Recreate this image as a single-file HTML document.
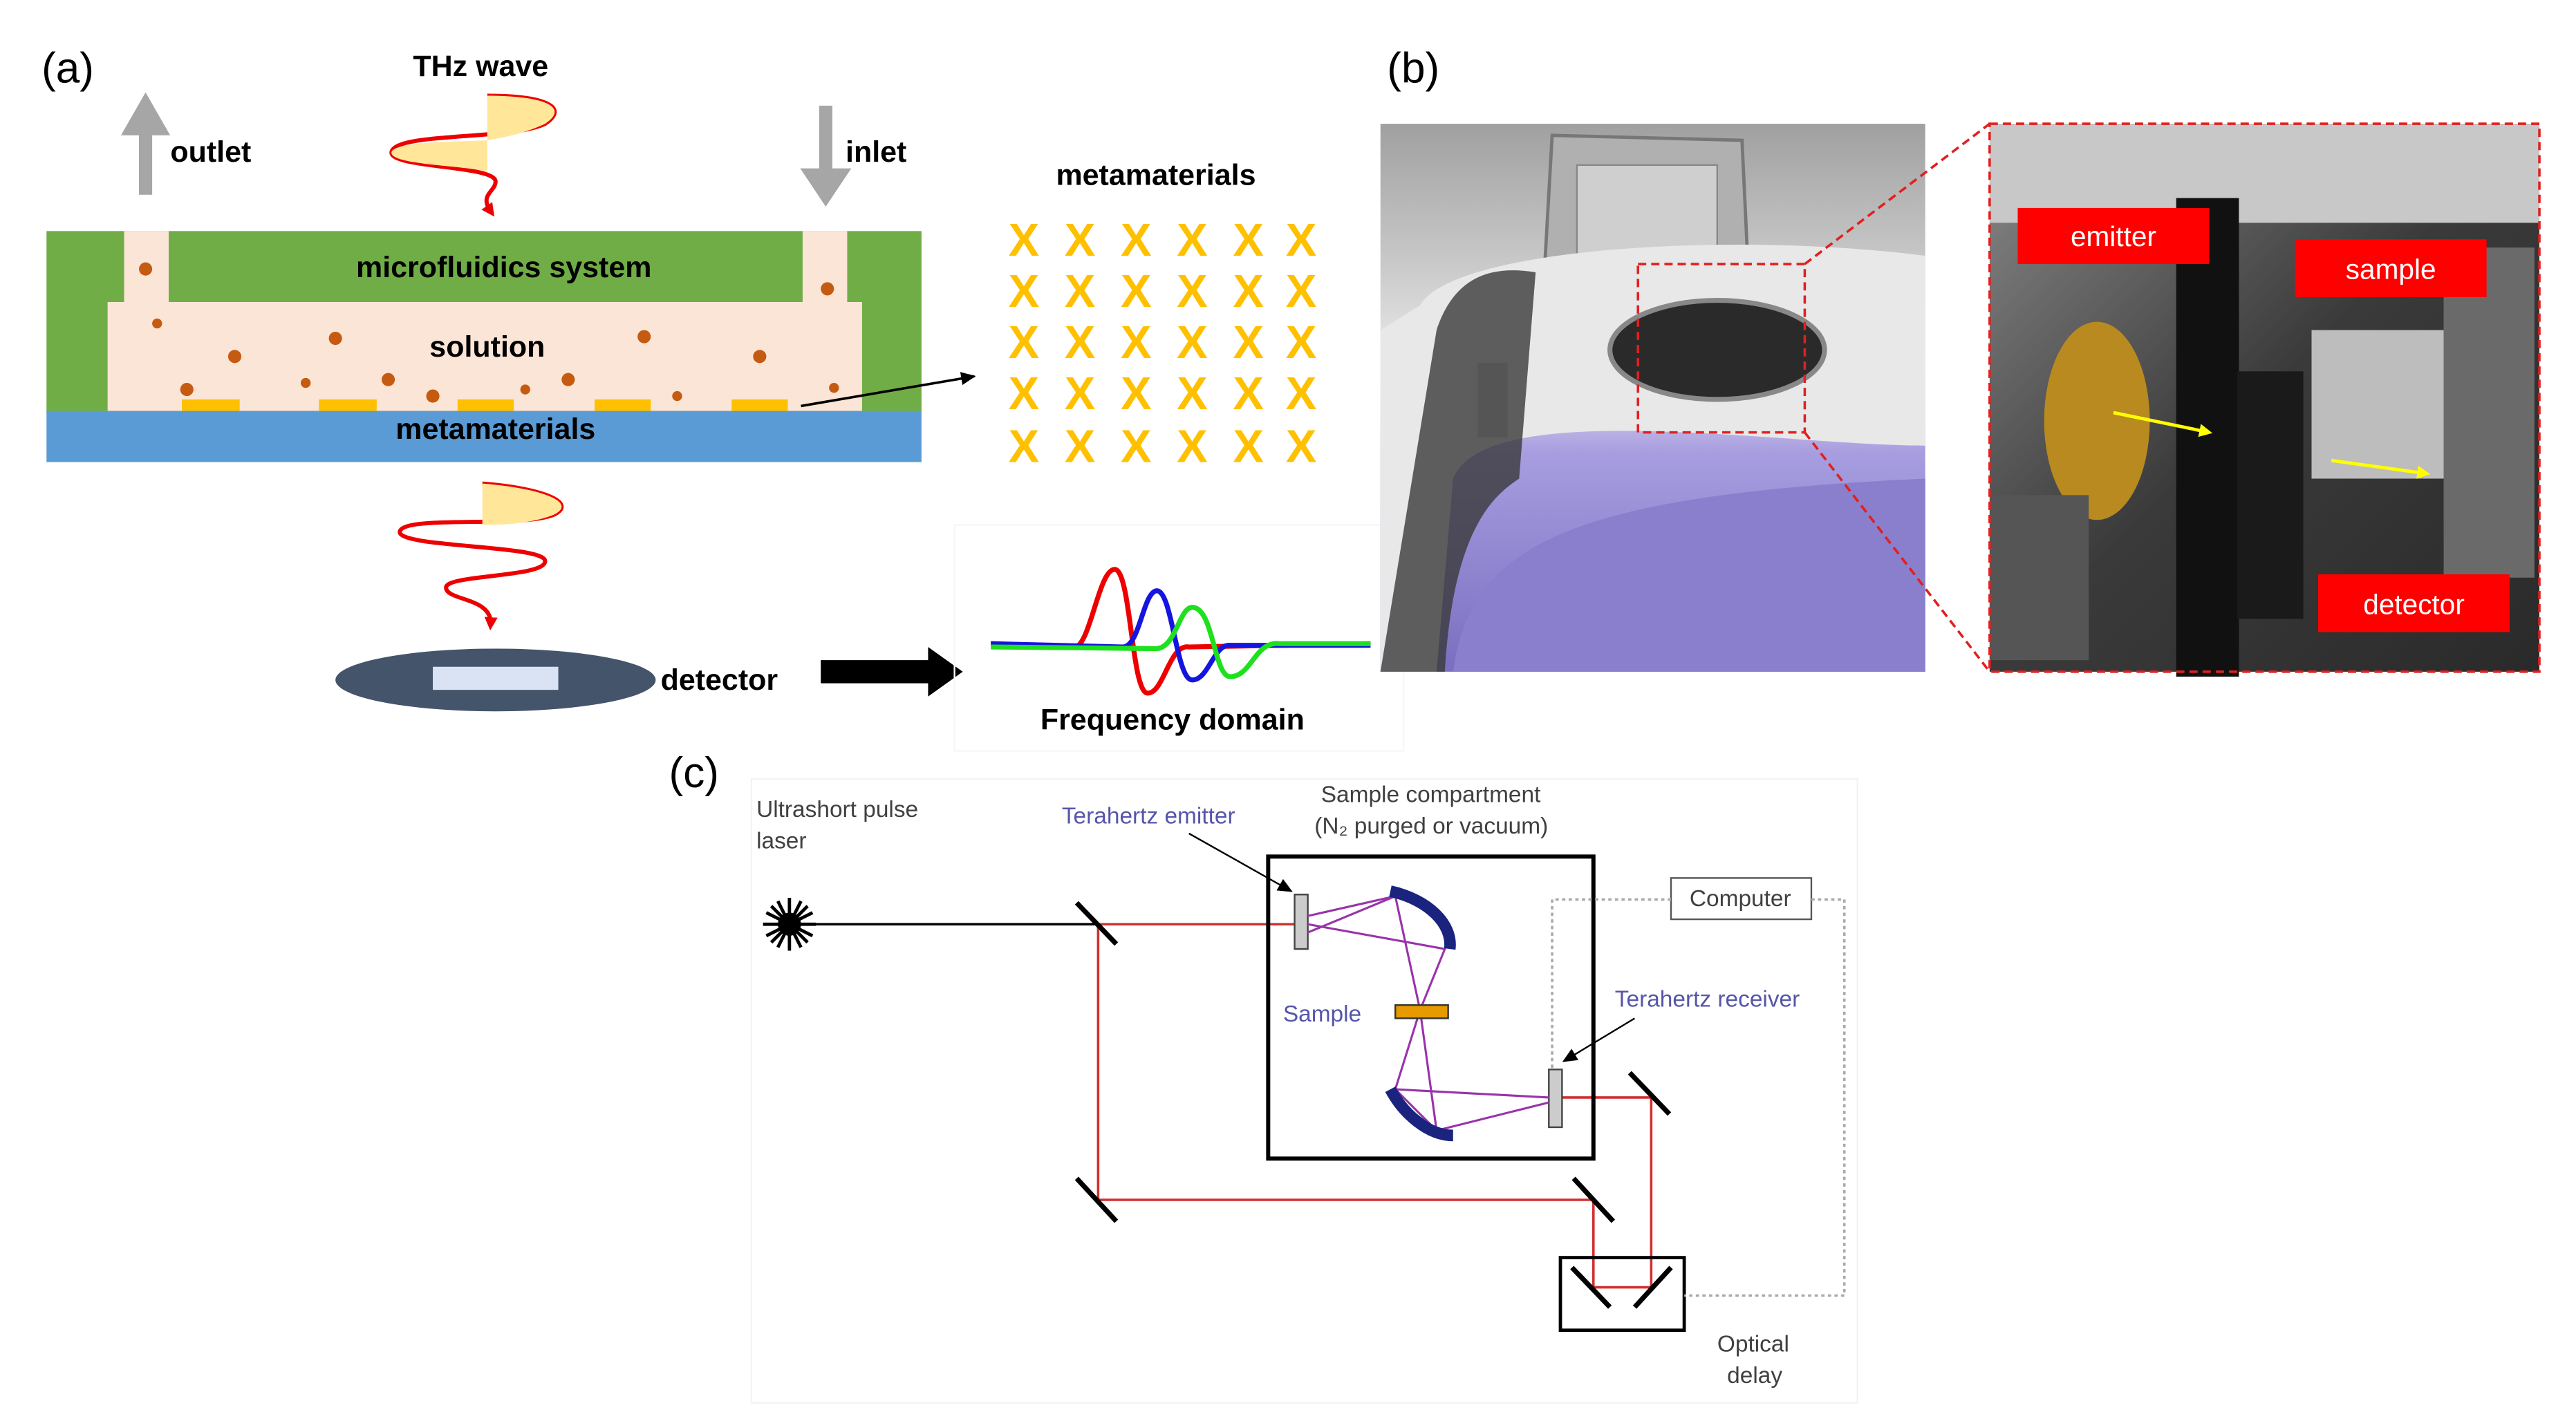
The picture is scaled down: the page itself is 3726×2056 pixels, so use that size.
<!DOCTYPE html>
<html><head><meta charset="utf-8"><style>
html,body{margin:0;padding:0;background:#fff;}
svg{display:block;}
text{font-family:"Liberation Sans",sans-serif;}
</style></head><body>
<svg width="3726" height="2056" viewBox="0 0 1560 861" xmlns="http://www.w3.org/2000/svg">
<defs>
<marker id="ar" markerUnits="userSpaceOnUse" markerWidth="9" markerHeight="8" refX="8" refY="4" orient="auto"><path d="M0,0 L9,4 L0,8 z" fill="#000"/></marker>
<marker id="arr" markerUnits="userSpaceOnUse" markerWidth="8" markerHeight="8" refX="4" refY="4" orient="auto"><path d="M0,0 L8,4 L0,8 z" fill="#e00"/></marker>
<marker id="ary" markerUnits="userSpaceOnUse" markerWidth="8" markerHeight="8" refX="6" refY="4" orient="auto"><path d="M0,0 L8,4 L0,8 z" fill="#ff0"/></marker>
<linearGradient id="ph" x1="0" y1="0" x2="0" y2="1"><stop offset="0" stop-color="#a0a0a0"/><stop offset="0.25" stop-color="#c8c8c8"/><stop offset="0.45" stop-color="#ececec"/><stop offset="0.6" stop-color="#a79de0"/><stop offset="1" stop-color="#7a6fc0"/></linearGradient>
<linearGradient id="ph2" x1="0" y1="0" x2="1" y2="1"><stop offset="0" stop-color="#8a8a8a"/><stop offset="0.5" stop-color="#3a3a3a"/><stop offset="1" stop-color="#2a2a2a"/></linearGradient>
</defs>

<!-- (a) -->
<text x="25" y="50" font-size="26">(a)</text>
<text x="250" y="46" font-size="18" font-weight="bold">THz wave</text>
<path d="M295,58 C330,58 345,65 330,75 C310,85 240,80 237,92 C235,102 300,100 300,110 C300,116 290,118 297,128" fill="none" stroke="#e00" stroke-width="2.5" marker-end="url(#arr)"/>
<path d="M295,58 C330,58 345,65 330,75 C315,82 300,84 295,85 z" fill="#ffe699"/>
<path d="M295,85 C270,86 240,86 237,92 C235,100 280,100 295,104 z" fill="#ffe699"/>
<path d="M88,118 L88,78 L80,78 L88,64 L96,78 L88,78" fill="#a6a6a6" stroke="#a6a6a6" stroke-width="8"/>
<text x="103" y="98" font-size="18" font-weight="bold">outlet</text>
<path d="M500,64 L500,106 L492,106 L500,118 L508,106 L500,106" fill="#a6a6a6" stroke="#a6a6a6" stroke-width="8"/>
<text x="512" y="98" font-size="18" font-weight="bold">inlet</text>
<rect x="28" y="140" width="530" height="110" fill="#70ad47"/>
<rect x="65" y="183" width="457" height="66" fill="#fbe5d6"/>
<rect x="75" y="140" width="27" height="45" fill="#fbe5d6"/>
<rect x="486" y="140" width="27" height="45" fill="#fbe5d6"/>
<text x="305" y="168" font-size="18" font-weight="bold" text-anchor="middle">microfluidics system</text>
<text x="295" y="216" font-size="18" font-weight="bold" text-anchor="middle">solution</text>
<g fill="#ffc000"><rect x="110" y="242" width="35" height="7"/><rect x="193" y="242" width="35" height="7"/><rect x="277" y="242" width="34" height="7"/><rect x="360" y="242" width="34" height="7"/><rect x="443" y="242" width="34" height="7"/></g>
<g fill="#c55a11"><circle cx="88" cy="163" r="4"/><circle cx="501" cy="175" r="4"/><circle cx="95" cy="196" r="3"/><circle cx="142" cy="216" r="4"/><circle cx="113" cy="236" r="4"/><circle cx="185" cy="232" r="3"/><circle cx="203" cy="205" r="4"/><circle cx="235" cy="230" r="4"/><circle cx="262" cy="240" r="4"/><circle cx="318" cy="236" r="3"/><circle cx="344" cy="230" r="4"/><circle cx="390" cy="204" r="4"/><circle cx="410" cy="240" r="3"/><circle cx="460" cy="216" r="4"/><circle cx="505" cy="235" r="3"/></g>
<rect x="28" y="249" width="530" height="31" fill="#5b9bd5"/>
<text x="300" y="266" font-size="18" font-weight="bold" text-anchor="middle">metamaterials</text>
<line x1="485" y1="246" x2="590" y2="228" stroke="#000" stroke-width="1.5" marker-end="url(#ar)"/>
<text x="700" y="112" font-size="18" font-weight="bold" text-anchor="middle">metamaterials</text>
<g font-size="28" font-weight="bold" fill="#ffc000" text-anchor="middle">
<text x="620" y="155">X</text><text x="654" y="155">X</text><text x="688" y="155">X</text><text x="722" y="155">X</text><text x="756" y="155">X</text><text x="788" y="155">X</text>
<text x="620" y="186">X</text><text x="654" y="186">X</text><text x="688" y="186">X</text><text x="722" y="186">X</text><text x="756" y="186">X</text><text x="788" y="186">X</text>
<text x="620" y="217">X</text><text x="654" y="217">X</text><text x="688" y="217">X</text><text x="722" y="217">X</text><text x="756" y="217">X</text><text x="788" y="217">X</text>
<text x="620" y="248">X</text><text x="654" y="248">X</text><text x="688" y="248">X</text><text x="722" y="248">X</text><text x="756" y="248">X</text><text x="788" y="248">X</text>
<text x="620" y="280">X</text><text x="654" y="280">X</text><text x="688" y="280">X</text><text x="722" y="280">X</text><text x="756" y="280">X</text><text x="788" y="280">X</text>
</g>
<path d="M292,293 C330,296 350,305 335,312 C315,320 245,312 242,322 C240,332 330,330 330,340 C330,350 270,348 270,356 C270,364 298,362 297,378" fill="none" stroke="#e00" stroke-width="2.5" marker-end="url(#arr)"/>
<path d="M292,293 C330,296 350,305 335,312 C320,318 300,318 292,318 z" fill="#ffe699"/>
<ellipse cx="300" cy="412" rx="97" ry="19" fill="#44546a"/>
<rect x="262" y="404" width="76" height="14" fill="#dae3f3"/>
<text x="400" y="418" font-size="18" font-weight="bold">detector</text>
<path d="M497,400 L562,400 L562,392 L583,407 L562,422 L562,414 L497,414 z" fill="#000"/>
<rect x="578" y="318" width="272" height="137" fill="none" stroke="#f7f7f7" stroke-width="1"/>
<path d="M600,390 L650,392 C660,394 665,345 675,345 C685,345 685,420 695,420 C705,420 708,390 720,392 L830,390" fill="none" stroke="#e00" stroke-width="3"/>
<path d="M600,390 L680,392 C690,392 692,360 700,358 C710,356 712,412 722,412 C732,412 735,390 745,391 L830,391" fill="none" stroke="#1515e0" stroke-width="3"/>
<path d="M600,392 L700,393 C712,393 714,368 722,368 C735,368 735,410 745,410 C758,410 760,388 775,390 L830,390" fill="none" stroke="#1ee01e" stroke-width="3"/>
<text x="710" y="442" font-size="18" font-weight="bold" text-anchor="middle">Frequency domain</text>

<!-- (b) -->
<text x="840" y="50" font-size="26">(b)</text>
<rect x="836" y="75" width="330" height="332" fill="url(#ph)"/>
<path d="M935,170 L940,82 L1055,85 L1060,190 Z" fill="#b0b0b0" stroke="#777" stroke-width="2"/>
<rect x="955" y="100" width="85" height="70" fill="#cfcfcf" stroke="#888"/>
<path d="M860,185 C880,150 1050,140 1166,155 L1166,270 C1080,270 900,240 880,290 L870,407 L836,407 L836,200 Z" fill="#e8e8e8"/>
<path d="M870,200 C880,170 900,160 930,165 L920,290 C905,300 880,320 875,407 L836,407 Z" fill="#3a3a3a" opacity="0.8"/>
<rect x="895" y="220" width="18" height="45" fill="#555"/>
<ellipse cx="1040" cy="212" rx="65" ry="30" fill="#2a2a2a" stroke="#888" stroke-width="3"/>
<path d="M880,407 C890,330 950,300 1166,290 L1166,407 Z" fill="#8a7fcc"/>
<rect x="992" y="160" width="101" height="102" fill="none" stroke="#e02020" stroke-width="1.5" stroke-dasharray="5,3"/>
<line x1="1093" y1="160" x2="1205" y2="75" stroke="#e02020" stroke-width="1.5" stroke-dasharray="5,3"/>
<line x1="1093" y1="262" x2="1205" y2="407" stroke="#e02020" stroke-width="1.5" stroke-dasharray="5,3"/>
<rect x="1205" y="75" width="333" height="332" fill="url(#ph2)"/>
<rect x="1205" y="75" width="333" height="60" fill="#c8c8c8"/>
<rect x="1318" y="120" width="38" height="290" fill="#111"/>
<ellipse cx="1270" cy="255" rx="32" ry="60" fill="#b88a20"/>
<rect x="1355" y="225" width="40" height="150" fill="#1a1a1a"/>
<rect x="1400" y="200" width="90" height="90" fill="#bdbdbd"/>
<rect x="1480" y="150" width="55" height="200" fill="#6a6a6a"/>
<rect x="1205" y="300" width="60" height="100" fill="#555"/>
<rect x="1205" y="75" width="333" height="332" fill="none" stroke="#e02020" stroke-width="1.5" stroke-dasharray="5,3"/>
<line x1="1280" y1="250" x2="1338" y2="262" stroke="#ff0" stroke-width="2" marker-end="url(#ary)"/>
<line x1="1412" y1="279" x2="1470" y2="287" stroke="#ff0" stroke-width="2" marker-end="url(#ary)"/>
<rect x="1222" y="126" width="116" height="34" fill="#f00"/><text x="1280" y="149" font-size="17" fill="#fff" text-anchor="middle">emitter</text>
<rect x="1390" y="145" width="116" height="35" fill="#f00"/><text x="1448" y="169" font-size="17" fill="#fff" text-anchor="middle">sample</text>
<rect x="1404" y="348" width="116" height="35" fill="#f00"/><text x="1462" y="372" font-size="17" fill="#fff" text-anchor="middle">detector</text>

<!-- (c) -->
<text x="405" y="477" font-size="26">(c)</text>
<rect x="455" y="472" width="670" height="378" fill="none" stroke="#f3f3f3"/>
<g font-size="14" fill="#404040">
<text x="458" y="495">Ultrashort pulse</text><text x="458" y="514">laser</text>
<text x="800" y="486">Sample compartment</text><text x="796" y="505">(N₂ purged or vacuum)</text>
<text x="1040" y="819">Optical</text><text x="1046" y="838">delay</text>
</g>
<g font-size="14" fill="#5555aa">
<text x="643" y="499">Terahertz emitter</text>
<text x="777" y="619">Sample</text>
<text x="978" y="610">Terahertz receiver</text>
</g>
<line x1="720" y1="505" x2="782" y2="540" stroke="#000" stroke-width="1" marker-end="url(#ar)"/>
<line x1="990" y1="617" x2="947" y2="643" stroke="#000" stroke-width="1" marker-end="url(#ar)"/>
<g stroke="#000" stroke-width="2">
<line x1="462" y1="560" x2="494" y2="560"/><line x1="478" y1="544" x2="478" y2="576"/>
<line x1="467" y1="549" x2="489" y2="571"/><line x1="467" y1="571" x2="489" y2="549"/>
<line x1="464" y1="553" x2="492" y2="567"/><line x1="464" y1="567" x2="492" y2="553"/>
<line x1="471" y1="546" x2="485" y2="574"/><line x1="485" y1="546" x2="471" y2="574"/>
</g>
<circle cx="478" cy="560" r="7" fill="#000"/>
<line x1="478" y1="560" x2="665" y2="560" stroke="#000" stroke-width="1.5"/>
<g stroke="#d03030" stroke-width="1.5" fill="none">
<path d="M665,560 L785,560"/><path d="M665,560 L665,727 L965,727 L965,780 L1000,780 L1000,665 L942,665"/>
</g>
<g stroke="#000" stroke-width="3">
<line x1="652" y1="547" x2="676" y2="572"/><line x1="652" y1="714" x2="676" y2="740"/>
<line x1="953" y1="714" x2="977" y2="740"/><line x1="987" y1="650" x2="1011" y2="675"/>
<line x1="952" y1="768" x2="975" y2="792"/><line x1="1012" y1="768" x2="990" y2="792"/>
</g>
<rect x="945" y="762" width="75" height="44" fill="none" stroke="#000" stroke-width="2"/>
<rect x="768" y="519" width="197" height="183" fill="none" stroke="#000" stroke-width="2.5"/>
<rect x="1012" y="532" width="85" height="25" fill="#fff" stroke="#555"/>
<text x="1054" y="549" font-size="14" fill="#404040" text-anchor="middle">Computer</text>
<g stroke="#aaa" stroke-width="1.5" stroke-dasharray="2,2" fill="none">
<path d="M1012,545 L940,545 L940,650"/><path d="M1097,545 L1117,545 L1117,785 L1020,785"/>
</g>
<rect x="784" y="542" width="8" height="33" fill="#ccc" stroke="#444"/>
<rect x="938" y="648" width="8" height="35" fill="#ccc" stroke="#444"/>
<g stroke="#9933aa" stroke-width="1.3" fill="none">
<path d="M792,555 L845,543 L860,612 M792,560 L875,575 L860,612 M792,565 L845,543"/>
<path d="M860,612 L845,660 L938,665 M860,612 L870,685 L938,668 M845,660 L870,685"/>
</g>
<path d="M842,540 C865,545 880,560 878,575" fill="none" stroke="#1a237e" stroke-width="7"/>
<path d="M842,660 C850,675 865,688 880,688" fill="none" stroke="#1a237e" stroke-width="7"/>
<rect x="845" y="609" width="32" height="8" fill="#e69a00" stroke="#333"/>
</svg>
</body></html>
